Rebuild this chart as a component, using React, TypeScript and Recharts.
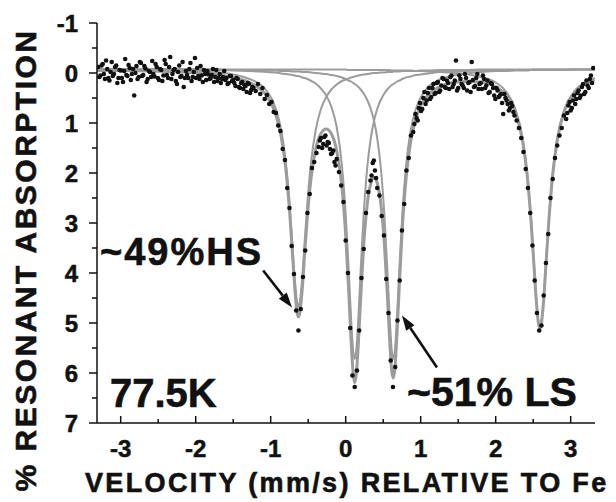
import React from "react";
import { ComposedChart, Line, Scatter, XAxis, YAxis, ReferenceLine } from "recharts";

const FONT = '"Liberation Sans", Arial, Helvetica, sans-serif';
const INK = "#111";
const FIT = "#9c9c9c";

const X_DOMAIN: [number, number] = [-3.316, 3.324];
const Y_DOMAIN: [number, number] = [-1, 7];

const xTicks = [-3, -2.5, -2, -1.5, -1, -0.5, 0, 0.5, 1, 1.5, 2, 2.5, 3];
const yTicks = [-1, -0.5, 0, 0.5, 1, 1.5, 2, 2.5, 3, 3.5, 4, 4.5, 5, 5.5, 6, 6.5, 7];

// measured spectrum: velocity (mm/s) and % resonant absorption
const dataVel = [
  -3.3, -3.27, -3.24, -3.21, -3.18, -3.15, -3.12, -3.09, -3.06, -3.03,
  -3, -2.97, -2.94, -2.91, -2.88, -2.85, -2.82, -2.79, -2.76, -2.73,
  -2.7, -2.67, -2.64, -2.61, -2.58, -2.55, -2.52, -2.49, -2.46, -2.43,
  -2.4, -2.37, -2.34, -2.31, -2.28, -2.25, -2.22, -2.19, -2.16, -2.13,
  -2.1, -2.07, -2.04, -2.01, -1.98, -1.95, -1.92, -1.89, -1.86, -1.83,
  -1.8, -1.77, -1.74, -1.71, -1.68, -1.65, -1.62, -1.59, -1.56, -1.53,
  -1.5, -1.47, -1.44, -1.41, -1.38, -1.35, -1.32, -1.29, -1.26, -1.23,
  -1.2, -1.17, -1.14, -1.11, -1.08, -1.05, -1.02, -0.99, -0.96, -0.93,
  -0.9, -0.87, -0.84, -0.81, -0.78, -0.75, -0.72, -0.69, -0.66, -0.63,
  -0.6, -0.57, -0.54, -0.51, -0.48, -0.45, -0.42, -0.39, -0.36, -0.33,
  -0.3, -0.27, -0.24, -0.21, -0.18, -0.15, -0.12, -0.09, -0.06, -0.03,
  0, 0.03, 0.06, 0.09, 0.12, 0.15, 0.18, 0.21, 0.24, 0.27,
  0.3, 0.33, 0.36, 0.39, 0.42, 0.45, 0.48, 0.51, 0.54, 0.57,
  0.6, 0.63, 0.66, 0.69, 0.72, 0.75, 0.78, 0.81, 0.84, 0.87,
  0.9, 0.93, 0.96, 0.99, 1.02, 1.05, 1.08, 1.11, 1.14, 1.17,
  1.2, 1.23, 1.26, 1.29, 1.32, 1.35, 1.38, 1.41, 1.44, 1.47,
  1.5, 1.53, 1.56, 1.59, 1.62, 1.65, 1.68, 1.71, 1.74, 1.77,
  1.8, 1.83, 1.86, 1.89, 1.92, 1.95, 1.98, 2.01, 2.04, 2.07,
  2.1, 2.13, 2.16, 2.19, 2.22, 2.25, 2.28, 2.31, 2.34, 2.37,
  2.4, 2.43, 2.46, 2.49, 2.52, 2.55, 2.58, 2.61, 2.64, 2.67,
  2.7, 2.73, 2.76, 2.79, 2.82, 2.85, 2.88, 2.91, 2.94, 2.97,
  3, 3.03, 3.06, 3.09, 3.12, 3.15, 3.18, 3.21, 3.24, 3.27,
  3.3,
];

const dataAbs = [
  -0.12, 0.05, -0.18, 0.12, -0.08, 0.15, -0.22, 0.02, -0.15, 0.1,
  -0.05, 0.18, -0.28, 0.06, -0.1, 0.02, 0.45, -0.14, 0.08, -0.2,
  0.04, -0.09, 0.12, -0.02, -0.24, 0.07, -0.12, 0.14, -0.06, 0.05,
  -0.18, 0.1, -0.32, 0.02, -0.08, 0.22, -0.15, 0.06, 0.28, -0.04,
  0.1, -0.2, 0.08, -0.3, -0.1, 0.12, 0.05, -0.06, 0.14, 0.03,
  0.1, -0.08, 0.08, 0.16, 0.02, 0.12, -0.04, 0.1, 0.2, 0.06,
  0.14, 0.26, 0.12, 0.3, 0.18, 0.24, 0.38, 0.22, 0.34, 0.3,
  0.36, 0.22, 0.42, 0.3, 0.52, 0.44, 0.62, 0.58, 0.78, 0.8,
  1.05, 1.16, 1.52, 1.74, 2.3, 2.7, 3.46, 4.02, 4.75, 5.15,
  4.72, 4.08, 3.55, 2.8, 2.42, 1.9, 1.78, 1.6, 1.48, 1.3,
  1.42, 1.25, 1.38, 1.52, 1.6, 1.78, 1.72, 1.98, 2.25, 2.58,
  3.35, 4.0, 5.1, 6.05, 6.28, 5.95, 5.15, 4.1, 3.52, 2.8,
  2.38, 2.15, 1.8, 1.95, 2.3, 2.45, 2.86, 3.25, 4.12, 4.8,
  5.75, 6.28, 5.88, 4.95, 4.15, 3.15, 2.62, 1.95, 1.7, 1.25,
  1.18, 0.82, 0.95, 0.6, 0.72, 0.38, 0.55, 0.3, 0.48, 0.22,
  0.4, 0.18, 0.35, 0.1, 0.28, 0.15, 0.32, 0.05, 0.22, -0.25,
  0.3, 0.12, 0.25, 0.02, 0.35, 0.18, -0.22, 0.28, 0.1, 0.32,
  0.2, 0.05, 0.3, 0.15, 0.38, 0.22, 0.45, 0.3, 0.48, 0.42,
  0.82, 0.5, 0.62, 0.7, 0.66, 0.85, 0.95, 1.1, 1.3, 1.58,
  1.92, 2.3, 2.8, 3.45, 4.15, 4.8, 5.15, 5.05, 4.45, 3.8,
  3.22, 2.5, 2.12, 1.7, 1.45, 1.25, 1.1, 0.85, 0.92, 0.65,
  0.75, 0.55, 0.62, 0.4, 0.5, 0.28, 0.42, 0.15, 0.3, 0.05,
  -0.1,
];

// interleaved channels (second half of the scan) in the flat parts
const dataVel2 = [
  -3.285, -3.255, -3.225, -3.195, -3.165, -3.135, -3.105, -3.075, -3.045, -3.015,
  -2.985, -2.955, -2.925, -2.895, -2.865, -2.835, -2.805, -2.775, -2.745, -2.715,
  -2.685, -2.655, -2.625, -2.595, -2.565, -2.535, -2.505, -2.475, -2.445, -2.415,
  -2.385, -2.355, -2.325, -2.295, -2.265, -2.235, -2.205, -2.175, -2.145, -2.115,
  -2.085, -2.055, -2.025, -1.995, -1.965, -1.935, -1.905, -1.875, -1.845, -1.815,
  -1.785, -1.755, -1.725, -1.695, -1.665, -1.635, -1.605, -1.575, -1.545, -1.515,
  -1.485, -1.455, -1.425, -1.395, -1.365, -1.335, -1.305, -1.275, -1.245,
  -0.345, -0.315, -0.285, -0.255, -0.225, -0.195, -0.165, -0.135,
  0.345, 0.375, 0.405,
  0.915, 0.945, 0.975, 1.005, 1.035, 1.065, 1.095, 1.125, 1.155, 1.185,
  1.215, 1.245, 1.275, 1.305, 1.335, 1.365, 1.395, 1.425, 1.455, 1.485,
  1.515, 1.545, 1.575, 1.605, 1.635, 1.665, 1.695, 1.725, 1.755, 1.785,
  1.815, 1.845, 1.875, 1.905, 1.935, 1.965, 1.995, 2.025, 2.055, 2.085,
  2.115, 2.145, 2.175, 2.205, 2.235,
  2.955, 2.985, 3.015, 3.045, 3.075, 3.105, 3.135, 3.165, 3.195, 3.225, 3.255, 3.285,
];

const dataAbs2 = [
  0.08, -0.15, 0.02, -0.25, 0.1, -0.02, 0.06, -0.12, 0.2, -0.06,
  0.1, -0.04, 0.04, -0.16, 0.14, -0.08, 0.0, 0.12, -0.22, 0.06,
  -0.14, 0.18, -0.04, 0.08, 0.02, -0.18, 0.1, -0.08, 0.16, -0.26,
  0.04, -0.12, 0.12, -0.06, 0.16, -0.02, 0.08, -0.22, 0.1, 0.04,
  -0.08, 0.16, -0.02, 0.1, 0.06, -0.14, 0.18, 0.02, -0.04, 0.12,
  0.04, 0.18, -0.06, 0.1, 0.2, 0.08, 0.14, 0.22, 0.06, 0.16,
  0.2, 0.1, 0.28, 0.2, 0.32, 0.26, 0.2, 0.4, 0.28,
  1.35, 1.5, 1.28, 1.45, 1.4, 1.62, 1.55, 1.85,
  2.05, 1.75, 2.1,
  1.02, 0.9, 0.7, 0.76, 0.5, 0.62, 0.4, 0.52, 0.3, 0.42,
  0.2, 0.38, 0.25, 0.12, 0.3, 0.2, 0.08, 0.28, 0.15, 0.35,
  0.05, 0.22, 0.3, 0.1, 0.2, 0.38, 0.14, 0.26, 0.02, 0.22,
  0.32, 0.12, 0.25, 0.4, 0.2, 0.3, 0.52, 0.35, 0.45, 0.6,
  0.42, 0.55, 0.75, 0.6, 0.78,
  0.8, 0.58, 0.7, 0.45, 0.52, 0.35, 0.45, 0.22, 0.38, 0.25, 0.12, 0.2,
];

// fitted curves: total fit and the four single lines (HS doublet, LS doublet)
const fitVel = [
  -3.32, -3, -2.6, -2.2, -1.8, -1.5, -1.3, -1.15, -1.05, -0.93,
  -0.86, -0.8, -0.75, -0.71, -0.68, -0.65, -0.63, -0.61, -0.58, -0.55,
  -0.51, -0.46, -0.4, -0.33, -0.26, -0.19, -0.12, -0.05, 0, 0.04,
  0.07, 0.1, 0.12, 0.14, 0.17, 0.2, 0.24, 0.29, 0.33, 0.38,
  0.42, 0.465, 0.515, 0.555, 0.585, 0.615, 0.635, 0.655, 0.685, 0.715,
  0.755, 0.805, 0.865, 0.935, 1, 1.1, 1.25, 1.4, 1.6, 1.8,
  2, 2.15, 2.26, 2.36, 2.42, 2.47, 2.51, 2.54, 2.57, 2.59,
  2.61, 2.64, 2.67, 2.71, 2.76, 2.82, 2.92, 3.05, 3.2, 3.32,
];

const fitTotal = [
  -0.05, -0.05, -0.04, -0.02, 0.02, 0.09, 0.18, 0.31, 0.46, 0.84,
  1.27, 1.9, 2.73, 3.61, 4.28, 4.77, 4.88, 4.78, 4.33, 3.68,
  2.85, 2.08, 1.52, 1.21, 1.12, 1.22, 1.55, 2.28, 3.24, 4.36,
  5.3, 6.01, 6.19, 6.04, 5.37, 4.49, 3.44, 2.59, 2.24, 2.09,
  2.2, 2.57, 3.4, 4.43, 5.31, 5.97, 6.1, 5.92, 5.19, 4.24,
  3.1, 2.1, 1.38, 0.92, 0.66, 0.44, 0.28, 0.2, 0.17, 0.18,
  0.28, 0.46, 0.77, 1.37, 2.05, 2.94, 3.85, 4.53, 5.01, 5.11,
  5.01, 4.53, 3.84, 2.93, 2.04, 1.35, 0.74, 0.39, 0.21, 0.13,
];

const fitHS1 = [
  -0.07, -0.06, -0.06, -0.05, -0.02, 0.03, 0.11, 0.22, 0.36, 0.72,
  1.14, 1.76, 2.57, 3.44, 4.1, 4.57, 4.67, 4.57, 4.1, 3.44,
  2.57, 1.76, 1.14, 0.72, 0.48, 0.33, 0.23, 0.16, 0.13, 0.11,
  0.09, 0.08, 0.07, 0.06, 0.05, 0.04, 0.03, 0.02, 0.01, 0,
  0, -0.01, -0.01, -0.02, -0.02, -0.02, -0.03, -0.03, -0.03, -0.03,
  -0.04, -0.04, -0.04, -0.04, -0.05, -0.05, -0.06, -0.06, -0.06, -0.07,
  -0.07, -0.07, -0.07, -0.07, -0.07, -0.07, -0.07, -0.07, -0.07, -0.07,
  -0.07, -0.07, -0.07, -0.07, -0.07, -0.07, -0.07, -0.07, -0.07, -0.07,
];

const fitHS2 = [
  -0.08, -0.08, -0.08, -0.08, -0.07, -0.07, -0.07, -0.07, -0.07, -0.07,
  -0.07, -0.07, -0.07, -0.07, -0.07, -0.07, -0.07, -0.07, -0.07, -0.07,
  -0.07, -0.07, -0.07, -0.07, -0.07, -0.07, -0.07, -0.07, -0.07, -0.06,
  -0.06, -0.06, -0.06, -0.06, -0.06, -0.06, -0.06, -0.06, -0.06, -0.06,
  -0.06, -0.06, -0.06, -0.06, -0.06, -0.05, -0.05, -0.05, -0.05, -0.05,
  -0.05, -0.05, -0.05, -0.04, -0.04, -0.03, -0.02, -0.01, 0.02, 0.08,
  0.19, 0.39, 0.71, 1.31, 2.0, 2.89, 3.8, 4.49, 4.97, 5.07,
  4.97, 4.49, 3.8, 2.89, 2.0, 1.31, 0.71, 0.36, 0.18, 0.1,
];

const fitLS1 = [
  -0.07, -0.07, -0.07, -0.06, -0.06, -0.05, -0.04, -0.03, -0.02, -0.01,
  0.01, 0.02, 0.03, 0.04, 0.05, 0.06, 0.06, 0.07, 0.09, 0.1,
  0.12, 0.16, 0.21, 0.31, 0.45, 0.68, 1.08, 1.85, 2.82, 3.94,
  4.86, 5.56, 5.72, 5.56, 4.86, 3.94, 2.82, 1.85, 1.35, 0.94,
  0.72, 0.55, 0.41, 0.33, 0.28, 0.24, 0.22, 0.2, 0.17, 0.15,
  0.12, 0.09, 0.07, 0.04, 0.03, 0.01, -0.02, -0.03, -0.04, -0.05,
  -0.06, -0.06, -0.06, -0.06, -0.06, -0.06, -0.07, -0.07, -0.07, -0.07,
  -0.07, -0.07, -0.07, -0.07, -0.07, -0.07, -0.07, -0.07, -0.07, -0.07,
];

const fitLS2 = [
  -0.07, -0.07, -0.07, -0.07, -0.07, -0.06, -0.06, -0.05, -0.05, -0.05,
  -0.04, -0.04, -0.04, -0.03, -0.03, -0.03, -0.03, -0.03, -0.02, -0.02,
  -0.02, -0.01, 0, 0.01, 0.02, 0.04, 0.06, 0.09, 0.12, 0.15,
  0.17, 0.2, 0.22, 0.24, 0.28, 0.33, 0.41, 0.55, 0.7, 0.97,
  1.3, 1.85, 2.82, 3.94, 4.86, 5.56, 5.72, 5.56, 4.86, 3.94,
  2.82, 1.85, 1.16, 0.72, 0.49, 0.28, 0.13, 0.06, 0.01, -0.02,
  -0.04, -0.04, -0.05, -0.05, -0.05, -0.06, -0.06, -0.06, -0.06, -0.06,
  -0.06, -0.06, -0.06, -0.06, -0.06, -0.06, -0.06, -0.07, -0.07, -0.07,
];

const fitData = fitVel.map((v, i) => ({
  v,
  total: fitTotal[i],
  hs1: fitHS1[i],
  hs2: fitHS2[i],
  ls1: fitLS1[i],
  ls2: fitLS2[i],
}));

const points = [
  ...dataVel.map((v, i) => ({ v, a: dataAbs[i] })),
  ...dataVel2.map((v, i) => ({ v, a: dataAbs2[i] })),
];

const isMajor = (v: number) => Number.isInteger(v);

const labelStyle = {
  fontFamily: FONT,
  fontWeight: 700,
  fontSize: 24,
  fill: INK,
  stroke: INK,
  strokeWidth: 0.5,
};

function BottomTick({ x, y, payload }: any) {
  const major = isMajor(payload.value);
  return (
    <g>
      <line x1={x} x2={x} y1={y} y2={y - (major ? 7 : 4)} stroke={INK} strokeWidth={1.5} />
      {major && (
        <text x={x} y={y + 34} textAnchor="middle" style={labelStyle}>
          {payload.value}
        </text>
      )}
    </g>
  );
}

function TopTick({ x, y, payload }: any) {
  const major = isMajor(payload.value);
  return <line x1={x} x2={x} y1={y} y2={y - (major ? 8 : 4)} stroke={INK} strokeWidth={1.5} />;
}

function LeftTick({ x, y, payload }: any) {
  const major = isMajor(payload.value);
  return (
    <g>
      <line x1={x} x2={x - (major ? 8 : 5)} y1={y} y2={y} stroke={INK} strokeWidth={1.5} />
      {major && (
        <text x={x - 19} y={y + 8.5} textAnchor="end" style={labelStyle}>
          {payload.value}
        </text>
      )}
    </g>
  );
}

function RightTick({ x, y }: any) {
  return <line x1={x} x2={x - 5} y1={y} y2={y} stroke={INK} strokeWidth={1.5} />;
}

const DataDot = (p: any) => <circle cx={p.cx} cy={p.cy} r={2.3} fill={INK} />;

function Arrow(p: any) {
  const { x1, y1, x2, y2 } = p;
  const ang = Math.atan2(y2 - y1, x2 - x1);
  const len = 15;
  const half = 5;
  const bx = x2 - len * Math.cos(ang);
  const by = y2 - len * Math.sin(ang);
  const sx = half * Math.sin(ang);
  const sy = half * Math.cos(ang);
  return (
    <g>
      <line x1={x1} y1={y1} x2={bx} y2={by} stroke={INK} strokeWidth={2.6} />
      <polygon points={`${x2},${y2} ${bx + sx},${by - sy} ${bx - sx},${by + sy}`} fill={INK} />
    </g>
  );
}

const axisLine = { stroke: INK, strokeWidth: 1.5 };

const bigText: React.CSSProperties = {
  position: "absolute",
  fontFamily: FONT,
  fontWeight: 700,
  color: INK,
  lineHeight: 1,
  whiteSpace: "nowrap",
  WebkitTextStroke: "0.6px #111",
};

export default function App() {
  return (
    <div style={{ position: "absolute", left: 0, top: 0, width: 616, height: 502, background: "#fff", overflow: "hidden" }}>
      <ComposedChart width={616} height={502} margin={{ top: 23, right: 21, bottom: 0, left: 0 }}>
        <XAxis
          dataKey="v"
          type="number"
          domain={X_DOMAIN}
          allowDataOverflow
          ticks={xTicks}
          interval={0}
          height={79}
          tickSize={0}
          tickMargin={0}
          tickLine={false}
          axisLine={axisLine}
          tick={<BottomTick />}
        />
        <XAxis
          xAxisId="top"
          orientation="top"
          type="number"
          domain={X_DOMAIN}
          allowDataOverflow
          ticks={xTicks}
          interval={0}
          height={0}
          tickSize={0}
          tickMargin={0}
          tickLine={false}
          axisLine={axisLine}
          tick={<TopTick />}
        />
        <YAxis
          type="number"
          domain={Y_DOMAIN}
          reversed
          allowDataOverflow
          ticks={yTicks}
          interval={0}
          width={97}
          tickSize={0}
          tickMargin={0}
          tickLine={false}
          axisLine={axisLine}
          tick={<LeftTick />}
        />
        <YAxis
          yAxisId="right"
          orientation="right"
          type="number"
          domain={Y_DOMAIN}
          reversed
          allowDataOverflow
          ticks={yTicks}
          interval={0}
          width={0}
          tickSize={0}
          tickMargin={0}
          tickLine={false}
          axisLine={axisLine}
          tick={<RightTick />}
        />
        <Line data={fitData} dataKey="hs1" type="monotone" stroke={FIT} strokeWidth={2} dot={false} activeDot={false} isAnimationActive={false} />
        <Line data={fitData} dataKey="hs2" type="monotone" stroke={FIT} strokeWidth={2} dot={false} activeDot={false} isAnimationActive={false} />
        <Line data={fitData} dataKey="ls1" type="monotone" stroke={FIT} strokeWidth={2} dot={false} activeDot={false} isAnimationActive={false} />
        <Line data={fitData} dataKey="ls2" type="monotone" stroke={FIT} strokeWidth={2} dot={false} activeDot={false} isAnimationActive={false} />
        <Line data={fitData} dataKey="total" type="monotone" stroke={FIT} strokeWidth={3} dot={false} activeDot={false} isAnimationActive={false} />
        <Scatter data={points} dataKey="a" shape={DataDot} isAnimationActive={false} />
        <ReferenceLine segment={[{ x: -1.1, y: 3.95 }, { x: -0.716, y: 4.69 }]} shape={Arrow} ifOverflow="visible" />
        <ReferenceLine segment={[{ x: 1.217, y: 5.89 }, { x: 0.75, y: 4.85 }]} shape={Arrow} ifOverflow="visible" />
      </ComposedChart>

      <div style={{ ...bigText, left: 100, top: 233, fontSize: 38, letterSpacing: 2 }}>~49%HS</div>
      <div style={{ ...bigText, left: 110, top: 373, fontSize: 40 }}>77.5K</div>
      <div style={{ ...bigText, left: 407, top: 372, fontSize: 41 }}>~51% LS</div>

      <div style={{ ...bigText, left: 85, top: 470, fontSize: 27, letterSpacing: 2.35 }}>
        VELOCITY (mm/s) RELATIVE TO Fe
      </div>
      <div
        style={{
          ...bigText,
          left: 26 - 250,
          top: 260 - 15,
          width: 500,
          height: 30,
          fontSize: 30,
          letterSpacing: 2.5,
          textAlign: "center",
          transform: "rotate(-90deg)",
        }}
      >
        % RESONANT ABSORPTION
      </div>
    </div>
  );
}
